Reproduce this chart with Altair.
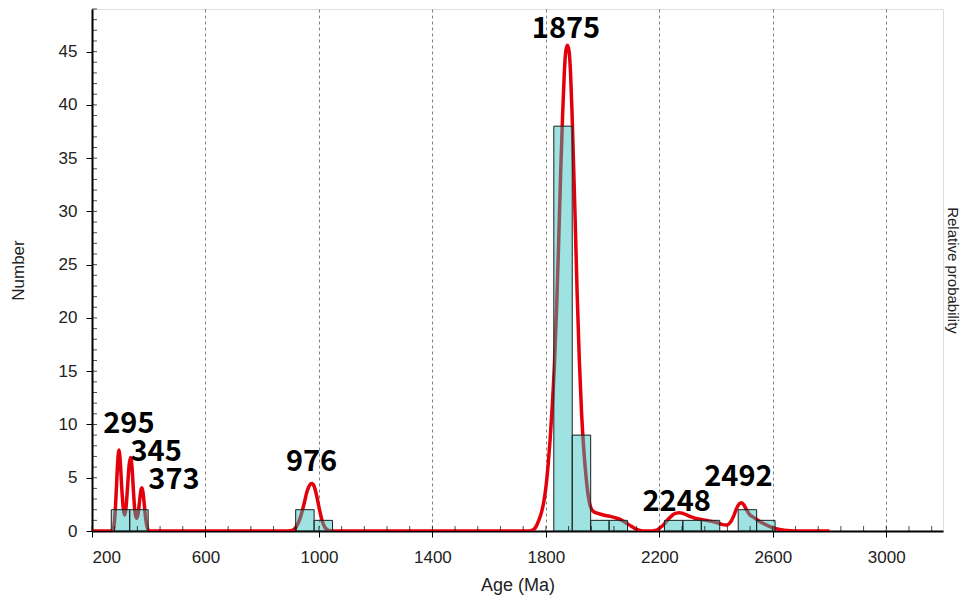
import altair as alt
import pandas as pd

# ---- histogram bins (Ma) and counts ----
bin_start = [268, 333, 918, 983, 1828, 1893, 1958, 2023, 2218, 2283, 2348, 2478, 2543]
bin_end = [333, 398, 983, 1048, 1893, 1958, 2023, 2088, 2283, 2348, 2413, 2543, 2608]
counts = [2, 2, 2, 1, 38, 9, 1, 1, 1, 1, 1, 2, 1]

# ---- probability density curve (in "Number" units) ----
curve_age = [
    200, 270, 276, 281, 286, 290, 295, 300, 305, 310, 315, 320, 325, 331, 336, 341,
    346, 351, 357, 363, 368, 373, 376, 380, 385, 390, 395, 402,
    880, 905, 920, 935, 948, 958, 967, 975, 983, 992, 1002, 1012, 1022, 1035, 1055,
    1740, 1755, 1765, 1775, 1785, 1793, 1801, 1808, 1815, 1822, 1830, 1838, 1845,
    1852, 1859, 1865, 1870, 1876, 1882, 1887, 1892, 1897, 1903, 1910, 1918, 1926,
    1934, 1942, 1950, 1960, 1972, 1990, 2010, 2030, 2050, 2065, 2080, 2095, 2110,
    2125, 2145,
    2175, 2185, 2195, 2205, 2215, 2226, 2238, 2249, 2260, 2270, 2280, 2292, 2310,
    2325, 2343, 2365, 2385, 2402, 2420, 2437, 2450, 2462, 2472, 2482, 2490, 2498,
    2508, 2518, 2531, 2545, 2560, 2575, 2590, 2605, 2620, 2640, 2665, 2690, 2800,
]
curve_val = [
    0, 0, 0.3, 1.5, 4.0, 6.2, 7.6, 6.4, 4.0, 2.2, 1.5, 2.2, 4.0, 6.2, 6.9, 6.0,
    3.8, 1.9, 1.2, 1.7, 2.9, 3.9, 4.05, 3.6, 2.3, 1.0, 0.3, 0,
    0, 0.05, 0.4, 1.3, 2.6, 3.7, 4.3, 4.45, 4.2, 3.3, 2.0, 0.9, 0.3, 0.05, 0,
    0, 0.1, 0.4, 1.0, 1.8, 2.8, 4.3, 6.2, 8.6, 11.5, 15.5, 21, 27,
    33.5, 39, 43, 45, 45.6, 45, 43, 39.5, 35, 29.5, 22.5, 16, 11,
    7.5, 5.0, 3.2, 2.1, 1.75, 1.6, 1.45, 1.35, 1.2, 1.05, 0.8, 0.55, 0.3,
    0.1, 0,
    0, 0.05, 0.15, 0.35, 0.6, 0.94, 1.28, 1.55, 1.68, 1.72, 1.68, 1.55, 1.35,
    1.2, 1.1, 1.0, 0.9, 0.78, 0.62, 0.56, 0.8, 1.4, 2.1, 2.55, 2.65, 2.45,
    1.95, 1.55, 1.3, 1.05, 0.8, 0.6, 0.42, 0.28, 0.16, 0.07, 0.02, 0, 0,
]

# ---- peak labels ----
peak_text = ["295", "345", "373", "976", "1875", "2248", "2492"]
peak_x = [330, 426, 489, 974, 1871, 2261, 2479]
peak_y = [10.0, 7.4, 4.8, 6.5, 47.15, 2.7, 5.05]

# ---- axes ----
x_major = [200, 600, 1000, 1400, 1800, 2200, 2600, 3000]
x_minor = list(range(200, 3201, 80))
y_major = [0, 5, 10, 15, 20, 25, 30, 35, 40, 45]
y_minor = list(range(0, 50))

X_DOMAIN = [200, 3200]
Y_DOMAIN = [0, 49]

bars_df = pd.DataFrame({"start": bin_start, "end": bin_end, "n": counts})
curve_df = pd.DataFrame({"age": curve_age, "p": curve_val})
labels_df = pd.DataFrame({"t": peak_text, "x": peak_x, "y": peak_y})
xminor_df = pd.DataFrame({"v": x_minor})
yminor_df = pd.DataFrame({"v": y_minor})

TICK_FONT = "Liberation Sans"

x_axis = alt.Axis(
    values=x_major, format="d", title="Age (Ma)",
    grid=True, gridDash=[3, 3], gridColor="#808080", gridWidth=1,
    domainColor="black", domainWidth=2, tickColor="black", tickWidth=1, tickSize=6,
    labelFont=TICK_FONT, labelFontSize=17, labelColor="#222", labelPadding=12,
    titleFont=TICK_FONT, titleFontSize=18, titleFontWeight="normal", titleColor="#222",
    titlePadding=11,
)
x_scale = alt.Scale(domain=X_DOMAIN, nice=False, zero=False)
y_scale = alt.Scale(domain=Y_DOMAIN, nice=False, zero=True)


def xenc(field):
    return alt.X(field, type="quantitative", scale=x_scale, axis=x_axis)


line = alt.Chart(curve_df).mark_line(
    color="#e3000b", strokeWidth=3.5, interpolate="monotone", clip=True
).encode(
    x=xenc("age"),
    y=alt.Y("p:Q", scale=y_scale, axis=alt.Axis(
        orient="right", labels=False, ticks=False, domain=False, grid=False,
        title="Relative probability", titleFont=TICK_FONT, titleFontSize=15,
        titleFontWeight="normal", titleColor="#222", titlePadding=1, titleAngle=90,
    )),
)

bars = alt.Chart(bars_df).mark_rect(
    fill="#28bebe", fillOpacity=0.45, stroke="#1e1e1e", strokeWidth=1
).encode(
    x=xenc("start"),
    x2="end",
    y=alt.Y("n:Q", scale=y_scale, axis=alt.Axis(
        values=y_major, title="Number", grid=False,
        domainColor="black", domainWidth=2, tickColor="black", tickWidth=1, tickSize=6,
        labelFont=TICK_FONT, labelFontSize=17, labelColor="#222", labelPadding=9,
        titleFont=TICK_FONT, titleFontSize=17, titleFontWeight="normal", titleColor="#222",
        titlePadding=31,
    )),
    y2=alt.datum(0),
)

xminor = alt.Chart(xminor_df).mark_tick(
    orient="vertical", size=5, thickness=1, color="black", yOffset=-2.5
).encode(
    x=xenc("v"),
    y=alt.Y(datum=0, type="quantitative", scale=y_scale, axis=None),
)

yminor = alt.Chart(yminor_df).mark_tick(
    orient="horizontal", size=5, thickness=1, color="black", xOffset=2.5
).encode(
    x=alt.X(datum=200, type="quantitative", scale=x_scale, axis=x_axis),
    y=alt.Y("v:Q", scale=y_scale, axis=None),
)

labels = alt.Chart(labels_df).mark_text(
    font="Noto Sans CJK KR", fontSize=29, fontWeight="bold", color="black",
    align="center", baseline="middle",
).encode(
    x=xenc("x"),
    y=alt.Y("y:Q", scale=y_scale, axis=None),
    text="t:N",
)

chart = alt.layer(line, bars, xminor, yminor, labels).resolve_scale(
    y="independent"
).properties(
    width=851, height=522,
    autosize=alt.AutoSizeParams(type="none"),
    padding={"left": 84, "top": 1, "right": 17, "bottom": 66},
).configure_view(
    stroke="black", strokeWidth=2
).configure(background="white")

chart.save("out.html", embed_options={"renderer": "svg", "actions": False})
